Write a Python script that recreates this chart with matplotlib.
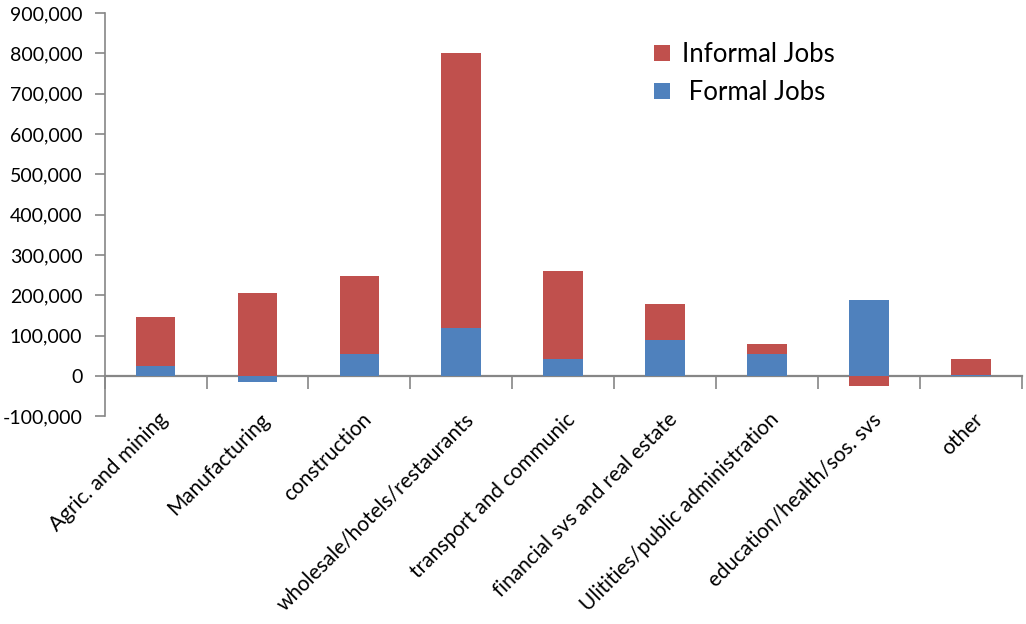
import numpy as np
import matplotlib.pyplot as plt
import matplotlib.transforms as mtransforms
from matplotlib.ticker import FuncFormatter

#=======
# Data
#=======

categories = ['Agric. and mining', 'Manufacturing', 'construction',
              'wholesale/hotels/restaurants', 'transport and communic',
              'financial svs and real estate', 'Ulitities/public administration',
              'education/health/sos. svs', 'other']
formal_jobs = [24000, -16000, 55000, 120000, 43000, 90000, 55000, 189000, 2000]
informal_jobs = [123000, 205000, 192000, 680000, 217000, 88000, 24000, -25000, 40000]

y_ticks = np.arange(-100000, 900001, 100000)

red = '#C0504D'
blue = '#4F81BD'
axis_grey = '#868686'

plt.rcParams['font.family'] = ['Lato', 'DejaVu Sans']

#==========
# Plotting
#==========

fig = plt.figure(figsize=(10.26, 6.24), dpi=100)
ax = fig.add_axes([0.102, 0.333, 0.894, 0.646])

x = np.arange(len(categories))
formal = np.array(formal_jobs)
informal = np.array(informal_jobs)

# stack like Excel: positives above zero, negatives below zero
pos_base = np.where(formal > 0, formal, 0)
neg_base = np.where(formal < 0, formal, 0)
inf_bottom = np.where(informal >= 0, pos_base, neg_base)

w = 0.39
ax.bar(x, formal, w, color=blue, label=' Formal Jobs', zorder=2)
ax.bar(x, informal, w, bottom=inf_bottom, color=red, label='Informal Jobs', zorder=2)

ax.set_xlim(-0.5, len(categories) - 0.5)
ax.set_ylim(-100000, 900000)
ax.set_yticks(y_ticks)
ax.yaxis.set_major_formatter(FuncFormatter(lambda v, p: f'{int(v):,}'))
ax.tick_params(axis='y', labelsize=14, length=7, width=1.2, color=axis_grey, pad=9)

# category labels at the bottom of the plot area
ax.set_xticks(x)
ax.set_xticklabels(categories, rotation=45, ha='right', va='top',
                   rotation_mode='anchor', fontsize=15)
ax.tick_params(axis='x', length=0, pad=-5)
shift = mtransforms.ScaledTranslation(2 / 100, 0, fig.dpi_scale_trans)
for lbl in ax.get_xticklabels():
    lbl.set_transform(lbl.get_transform() + shift)

for s in ['top', 'right', 'bottom']:
    ax.spines[s].set_visible(False)
ax.spines['left'].set_color(axis_grey)
ax.spines['left'].set_linewidth(1.2)

# horizontal axis line at zero with boundary ticks
zero_loc = 0.1
sec = ax.secondary_xaxis(zero_loc)
sec.set_xticks(np.arange(len(categories) + 1) - 0.5)
sec.set_xticklabels([])
sec.tick_params(length=9, width=1.2, color=axis_grey)
sec.spines['bottom'].set_color(axis_grey)
sec.spines['bottom'].set_linewidth(1.6)
sec.spines['bottom'].set_zorder(3)

handles, labels = ax.get_legend_handles_labels()
ax.legend(handles[::-1], labels[::-1], loc='upper left', bbox_to_anchor=(0.585, 0.96),
          frameon=False, fontsize=18.5, handlelength=0.6, handleheight=0.6,
          handletextpad=0.5, labelspacing=0.5, borderpad=0)

fig.savefig('out.png', dpi=100)
